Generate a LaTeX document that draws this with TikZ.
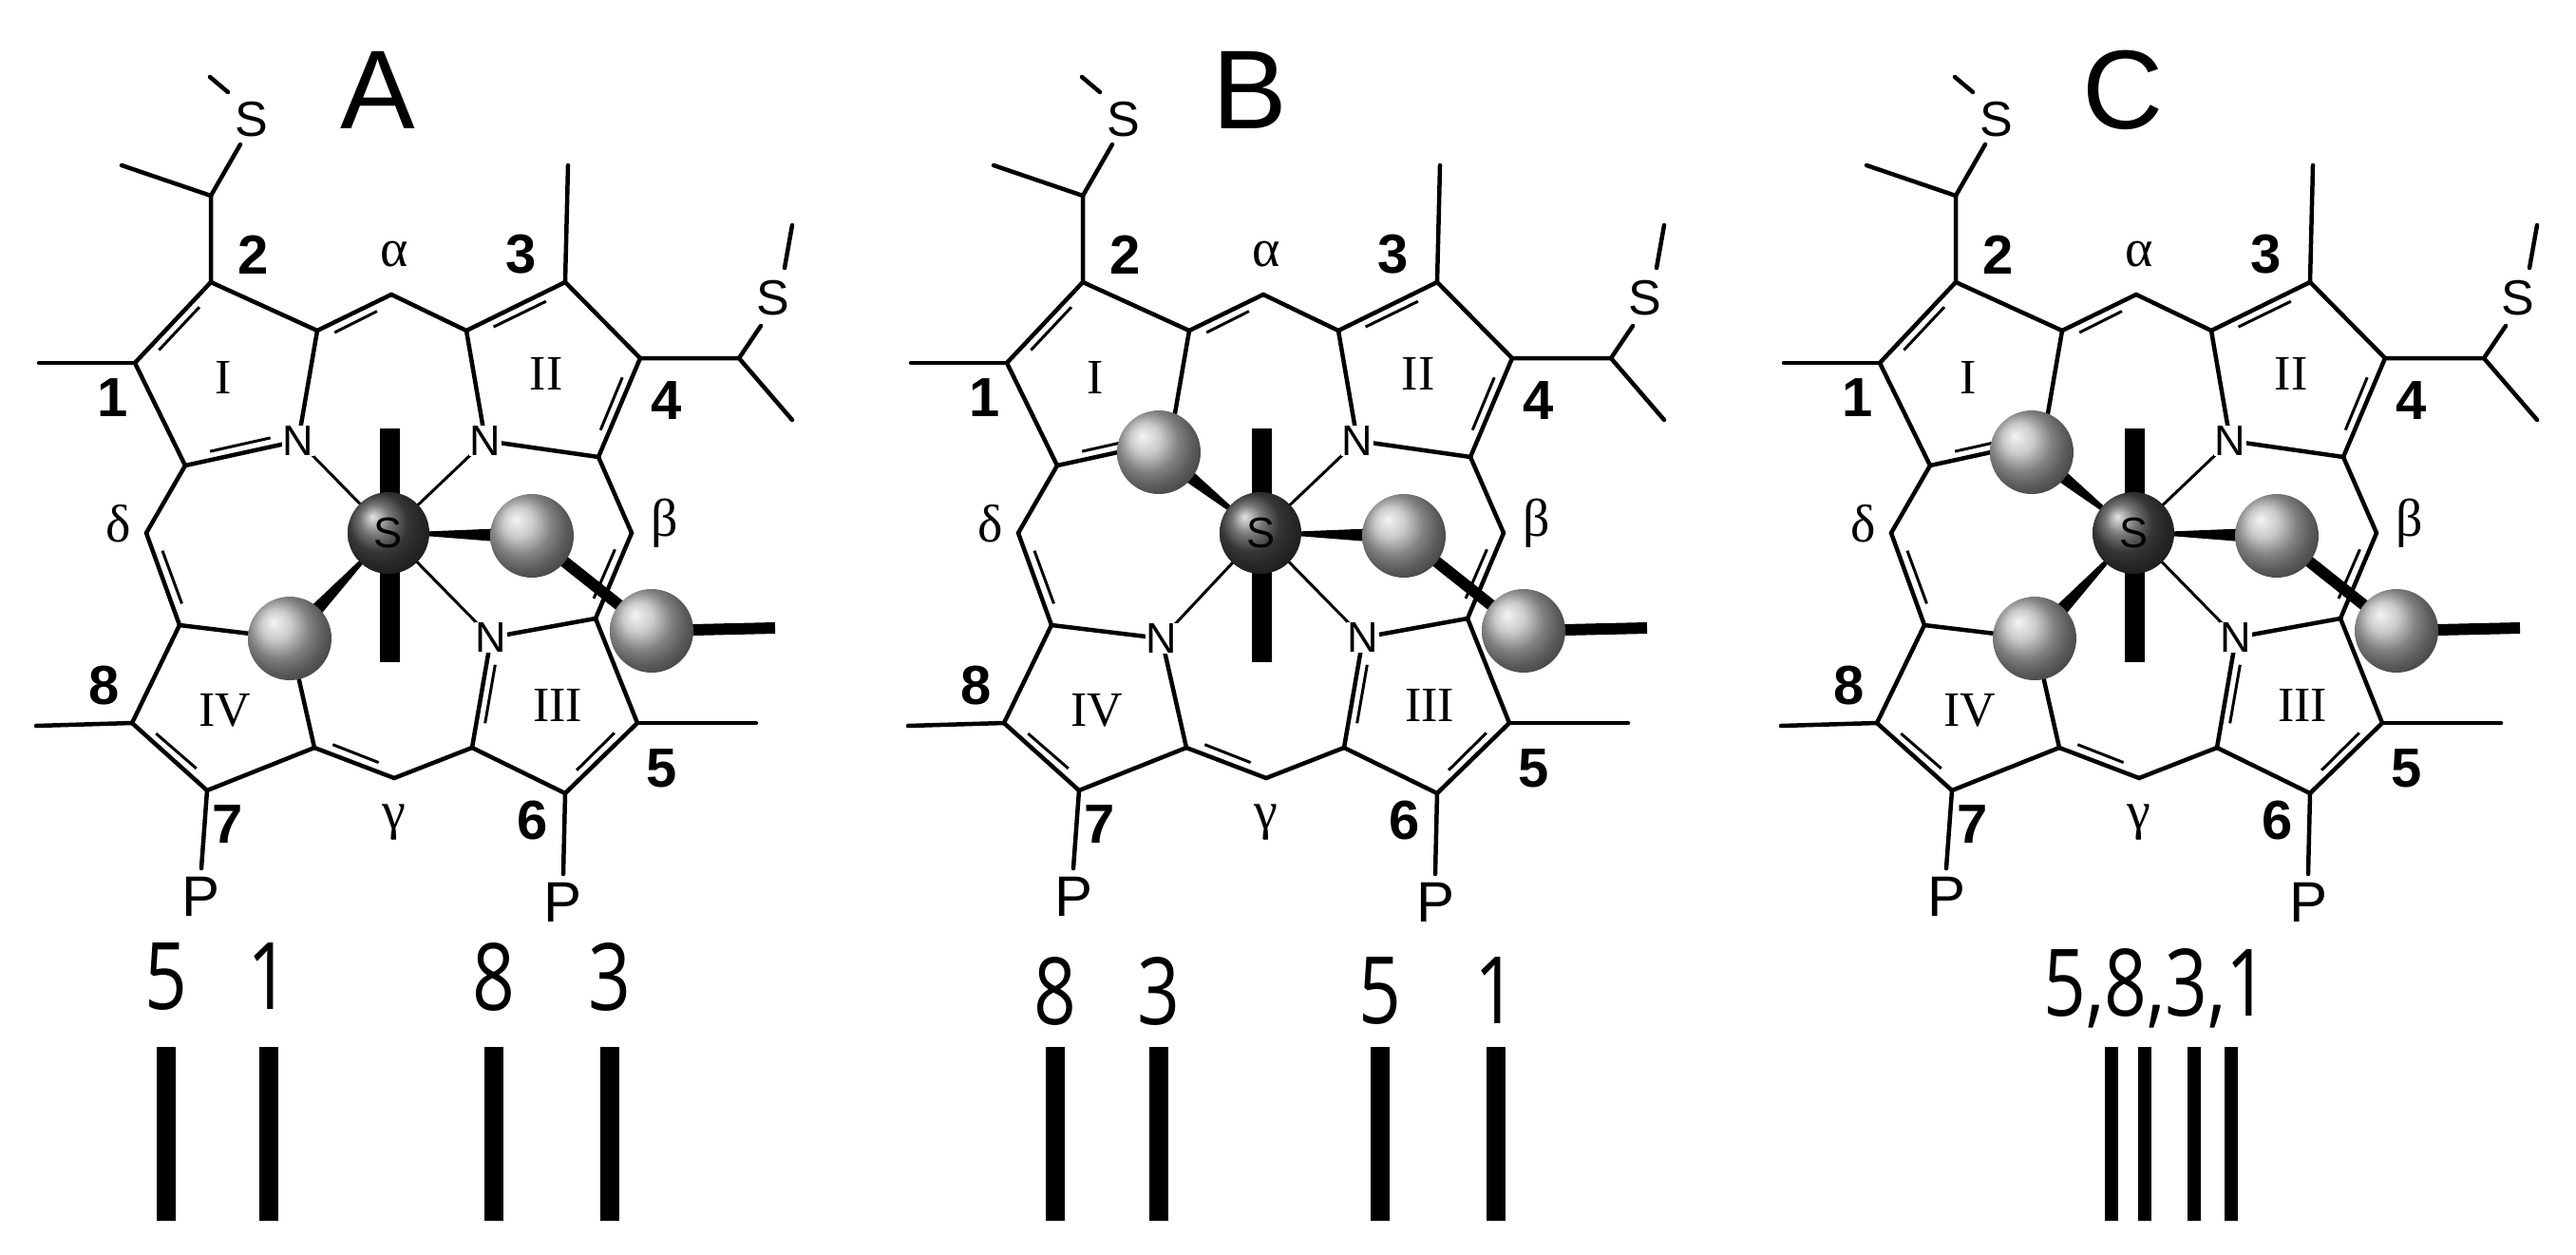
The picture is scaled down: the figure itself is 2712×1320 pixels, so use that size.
\documentclass[tikz,border=0pt]{standalone}
\usepackage{fontspec}
\setmainfont{Liberation Serif}
\setsansfont{Liberation Sans}
\newfontfamily\numfont{Open Sans}
\usetikzlibrary{calc}
\tikzset{
 bond/.style={line width=4.5pt,line cap=round},
 ibond/.style={line width=3pt},
 thin/.style={line width=3pt},
 atom/.style={font=\sffamily\fontsize{45}{45}\selectfont,fill=white,inner sep=1pt},
 subatom/.style={font=\sffamily\fontsize{52}{52}\selectfont,inner sep=0pt},
 posnum/.style={font=\sffamily\bfseries\fontsize{58}{58}\selectfont,inner sep=0pt},
 roman/.style={font=\rmfamily\fontsize{52}{52}\selectfont,inner sep=0pt},
 greek/.style={font=\rmfamily\fontsize{56}{56}\selectfont,inner sep=0pt},
 panel/.style={font=\sffamily\fontsize{118}{118}\selectfont,inner sep=0pt},
 ligball/.style={circle,minimum size=88pt,inner sep=0pt,shading=ball,ball color=gray!55},
 cenball/.style={circle,minimum size=86pt,inner sep=0pt,shading=ball,ball color=gray!60!black,font=\sffamily\fontsize{45}{45}\selectfont,text=black},
 stick/.style={line width=21pt},
 num/.style={font=\numfont\fontsize{98}{98}\selectfont,xscale=0.8,inner sep=0pt},
 barline/.style={line width=20pt},
}
\newcommand\dbl[3]{\draw[bond] (#1) -- (#2); \draw[ibond] ($($(#1)!0.2!(#2)$)!10pt!(#3)$) -- ($($(#2)!0.2!(#1)$)!10pt!(#3)$);}
\newcommand\porph[5]{%
\begin{scope}[xshift=#3]
\coordinate (#1C1) at (142,382); \coordinate (#1C2) at (222,297);
\coordinate (#1CaIr) at (334,348); \coordinate (#1NI) at (314,464);
\coordinate (#1CaIb) at (195,490); \coordinate (#1al) at (412,310);
\coordinate (#1CaIIl) at (491,348); \coordinate (#1C3) at (595,297);
\coordinate (#1C4) at (674,377); \coordinate (#1CaIIb) at (630,481);
\coordinate (#1NII) at (511,464); \coordinate (#1be) at (665,561);
\coordinate (#1CaIIIt) at (627,651); \coordinate (#1C5) at (671,761);
\coordinate (#1C6) at (595,835); \coordinate (#1CaIIIl) at (497,787);
\coordinate (#1NIII) at (517,671); \coordinate (#1ga) at (415,819);
\coordinate (#1CaIVr) at (331,787); \coordinate (#1CaIVt) at (189,658);
\coordinate (#1C8) at (139,761); \coordinate (#1C7) at (218,832);
\coordinate (#1NIV) at (305,672); \coordinate (#1de) at (154,561);
\coordinate (#1cen) at (409,561);
\coordinate (#1rI) at (241,396); \coordinate (#1rII) at (580,393);
\coordinate (#1rIII) at (585,742); \coordinate (#1rIV) at (238,748);
\dbl{#1C1}{#1C2}{#1rI}
\draw[bond] (#1C2) -- (#1CaIr) -- (#1NI);
\dbl{#1NI}{#1CaIb}{#1rI}
\draw[bond] (#1CaIb) -- (#1C1);
\dbl{#1CaIr}{#1al}{#1cen}
\draw[bond] (#1al) -- (#1CaIIl);
\dbl{#1CaIIl}{#1C3}{#1rII}
\draw[bond] (#1C3) -- (#1C4);
\dbl{#1C4}{#1CaIIb}{#1rII}
\draw[bond] (#1CaIIb) -- (#1NII) -- (#1CaIIl);
\draw[bond] (#1CaIIb) -- (#1be);
\dbl{#1be}{#1CaIIIt}{#1cen}
\draw[bond] (#1NIII) -- (#1CaIIIt) -- (#1C5);
\dbl{#1C5}{#1C6}{#1rIII}
\draw[bond] (#1C6) -- (#1CaIIIl);
\dbl{#1CaIIIl}{#1NIII}{#1rIII}
\draw[bond] (#1CaIIIl) -- (#1ga);
\dbl{#1ga}{#1CaIVr}{#1cen}
\draw[bond] (#1CaIVr) -- (#1C7);
\dbl{#1C7}{#1C8}{#1rIV}
\draw[bond] (#1C8) -- (#1CaIVt) -- (#1NIV) -- (#1CaIVr);
\dbl{#1CaIVt}{#1de}{#1cen}
\draw[bond] (#1de) -- (#1CaIb);
\coordinate (#1m1) at (41,382); \draw[bond] (#1C1) -- (#1m1);
\coordinate (#1ch2) at (222,206); \coordinate (#1m2) at (128,174);
\coordinate (#1s2b) at (253,152); \coordinate (#1s2m1) at (221,81); \coordinate (#1s2m2) at (240,97);
\draw[bond] (#1C2) -- (#1ch2) -- (#1m2); \draw[bond] (#1ch2) -- (#1s2b);
\draw[bond] (#1s2m1) -- (#1s2m2);
\node[subatom] (#1S2) at (265,126) {S};
\coordinate (#1m3) at (598,174); \draw[bond] (#1C3) -- (#1m3);
\coordinate (#1ch4) at (778,377); \coordinate (#1m4) at (834,442);
\coordinate (#1s4b) at (801,343); \coordinate (#1s4m1) at (834,237); \coordinate (#1s4m2) at (826,282);
\draw[bond] (#1C4) -- (#1ch4) -- (#1m4); \draw[bond] (#1ch4) -- (#1s4b);
\draw[bond] (#1s4m1) -- (#1s4m2);
\node[subatom] (#1S4) at (814,314) {S};
\coordinate (#1m5) at (796,761); \draw[bond] (#1C5) -- (#1m5);
\coordinate (#1p6) at (593,920); \draw[bond] (#1C6) -- (#1p6);
\node[subatom,font=\sffamily\fontsize{60}{60}\selectfont] (#1P6) at (593,950) {P};
\coordinate (#1p7) at (212,914); \draw[bond] (#1C7) -- (#1p7);
\node[subatom,font=\sffamily\fontsize{60}{60}\selectfont] (#1P7) at (212,944) {P};
\coordinate (#1m8) at (38,764); \draw[bond] (#1C8) -- (#1m8);
\node[posnum] (#1l1) at (119,419) {1}; \node[posnum] (#1l2) at (267,268) {2};
\node[posnum] (#1l3) at (549,268) {3}; \node[posnum] (#1l4) at (702,422) {4};
\node[posnum] (#1l5) at (697,809) {5}; \node[posnum] (#1l6) at (561,864) {6};
\node[posnum] (#1l7) at (240,868) {7}; \node[posnum] (#1l8) at (110,722) {8};
\node[roman] (#1rn1) at (235,397) {I}; \node[roman] (#1rn2) at (575,393) {II};
\node[roman] (#1rn3) at (587,742) {III}; \node[roman] (#1rn4) at (237,748) {IV};
\node[greek] (#1ga1) at (415,268) {α}; \node[greek] (#1be1) at (700,551) {β};
\node[greek] (#1ga2) at (415,866) {γ}; \node[greek] (#1de1) at (125,551) {δ};
\node[panel] (#1lab) at (398,95) {#2};
\coordinate (#1axT) at (410,451); \coordinate (#1axB) at (410,697);
\draw[stick] (#1axT) -- (#1axB);
\draw[thin] (#1cen) -- (#1NII); \draw[thin] (#1cen) -- (#1NIII);
\ifnum#4=0 \draw[thin] (#1cen) -- (#1NI); \fi
\ifnum#5=0 \draw[thin] (#1cen) -- (#1NIV); \fi
\node[atom] (#1nII) at (#1NII) {N};
\node[atom] (#1nIII) at (#1NIII) {N};
\ifnum#4=0 \node[atom] (#1nI) at (#1NI) {N}; \fi
\ifnum#5=0 \node[atom] (#1nIV) at (#1NIV) {N}; \fi
\coordinate (#1b2) at (560,564); \coordinate (#1b3) at (686,664); \coordinate (#1bend) at (816,661);
\draw[line width=12pt] (#1b3) -- (#1bend);
\draw[line width=12pt] (#1b2) -- (#1b3);
\fill (#1cen) -- ($(#1b2)+(0,-9)$) -- ($(#1b2)+(0,9)$) -- cycle;
\node[ligball] (#1B3) at (#1b3) {};
\node[ligball] (#1B2) at (#1b2) {};
\ifnum#4=1
 \coordinate (#1b1) at (302,476);
 \fill (#1cen) -- ($(#1b1)+(6,-7)$) -- ($(#1b1)+(-6,7)$) -- cycle;
 \node[ligball] (#1B1) at (#1b1) {};
\fi
\ifnum#5=1
 \fill (#1cen) -- ($(#1NIV)+(-6,-7)$) -- ($(#1NIV)+(6,7)$) -- cycle;
 \node[ligball] (#1B4) at (#1NIV) {};
\fi
\node[cenball] (#1S) at (#1cen) {S};
\end{scope}}
\begin{document}
\begin{tikzpicture}[x=1pt,y=-1pt]
\useasboundingbox (0,0) rectangle (2712,1320);
\fill[white] (0,0) rectangle (2712,1320);
\porph{a}{A}{0pt}{0}{1}
\porph{b}{B}{918pt}{1}{0}
\porph{c}{C}{1837pt}{1}{1}
\foreach \n/\x/\y/\t in {n1/175/1028/5,n2/283/1028/1,n3/520/1028/8,n4/642/1028/3,
  n5/1111/1043/8,n6/1220/1043/3,n7/1453/1043/5,n8/1575/1043/1}{
  \node[num] (\n) at (\x,\y) {\t};
  \coordinate (\n t) at (\x,1102); \coordinate (\n b) at (\x,1285);
  \draw[barline] (\n t) -- (\n b);
}
\node[num] (nc) at (2270,1040) {5,8,3,1};
\foreach \n/\x in {c1/2223,c2/2258,c3/2310,c4/2349}{
  \coordinate (\n t) at (\x,1102); \coordinate (\n b) at (\x,1285);
  \draw[barline,line width=14pt] (\n t) -- (\n b);
}
\end{tikzpicture}
\end{document}
